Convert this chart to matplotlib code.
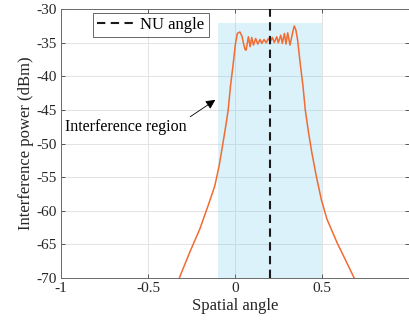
import matplotlib
matplotlib.use("Agg")
import matplotlib.pyplot as plt

# ---- data ----
angle = [-0.320, -0.259, -0.202, -0.154, -0.116, -0.091, -0.072, -0.053, -0.039, -0.026,
         -0.010, 0.003, 0.014, 0.028, 0.040, 0.050, 0.058, 0.064,
         0.077, 0.087, 0.096, 0.106, 0.119, 0.131, 0.144, 0.154, 0.167, 0.179,
         0.192, 0.202, 0.215, 0.226, 0.240, 0.249, 0.263, 0.272, 0.284, 0.293,
         0.303, 0.316, 0.332, 0.341, 0.350, 0.360, 0.375, 0.391, 0.404, 0.423,
         0.442, 0.467, 0.496, 0.528, 0.586, 0.633, 0.685]
power = [-70.0, -66.1, -62.7, -59.2, -56.3, -53.3, -50.4, -47.4, -45.0, -41.5,
         -38.1, -35.1, -33.6, -33.4, -34.0, -35.2, -36.0, -36.1,
         -34.11, -35.60, -34.21, -35.35, -34.36, -35.20, -34.51, -35.10, -34.51, -35.01,
         -34.36, -34.86, -34.21, -34.96, -34.11, -35.01, -33.87, -35.10, -33.62, -35.20,
         -33.52, -35.35, -33.4, -32.5, -33.1, -34.6, -38.1, -41.5, -45.0, -48.4,
         -51.4, -54.8, -58.3, -61.2, -64.7, -67.2, -70.0]

region_x = [-0.1, 0.5]
region_top = -32.0
nu_angle = 0.2

xticks = [-1, -0.5, 0, 0.5, 1]
xticklabels = ['-1', '-0.5', '0', '0.5', '']
yticks = [-70, -65, -60, -55, -50, -45, -40, -35, -30]
yticklabels = ['-70', '-65', '-60', '-55', '-50', '-45', '-40', '-35', '-30']

plt.rcParams['font.family'] = ['Liberation Serif', 'DejaVu Serif']

fig = plt.figure(figsize=(4.09, 3.26), dpi=100)
ax = fig.add_axes([0.149, 0.147, 0.851, 0.825])

ax.set_xlim(-1, 1)
ax.set_ylim(-70, -30)
ax.grid(True, color='#e3e3e3', linewidth=0.7, zorder=0)
ax.set_axisbelow(True)

ax.fill_between(region_x, [-70, -70], [region_top, region_top],
                color=(0.301, 0.745, 0.933), alpha=0.2, linewidth=0, zorder=1)

ax.plot(angle, power, color='#F26B30', linewidth=1.1, zorder=3, clip_on=True)
ax.axvline(nu_angle, color='#1a1a1a', linewidth=1.5, linestyle=(0, (4, 2.6)),
           zorder=4, label='NU angle')

ax.annotate('', xy=(-0.113, -43.5), xytext=(-0.257, -46.0),
            arrowprops=dict(arrowstyle='-|>', color='black', lw=0.6,
                            mutation_scale=14, shrinkA=0, shrinkB=0), zorder=5)
ax.text(-0.975, -47.6, 'Interference region', fontsize=11.5, va='center', ha='left', zorder=5)

ax.set_xticks(xticks)
ax.set_xticklabels(xticklabels)
ax.set_yticks(yticks)
ax.set_yticklabels(yticklabels)
ax.tick_params(direction='in', length=3, width=0.6, colors='#404040',
               labelcolor='#262626', labelsize=11, top=True, right=True, pad=3)
for s in ax.spines.values():
    s.set_color('#6a6a6a')
    s.set_linewidth(0.7)

ax.set_xlabel('Spatial angle', fontsize=12, color='#262626', labelpad=2)
ax.set_ylabel('Interference power (dBm)', fontsize=12, color='#262626', labelpad=2)

leg = ax.legend(loc='upper left', bbox_to_anchor=(0.092, 0.985), fontsize=12,
                frameon=True, fancybox=False, edgecolor='#404040',
                borderpad=0.25, handlelength=2.3, handletextpad=0.3,
                borderaxespad=0)
leg.get_frame().set_linewidth(0.7)

fig.savefig('out.png', dpi=100)
